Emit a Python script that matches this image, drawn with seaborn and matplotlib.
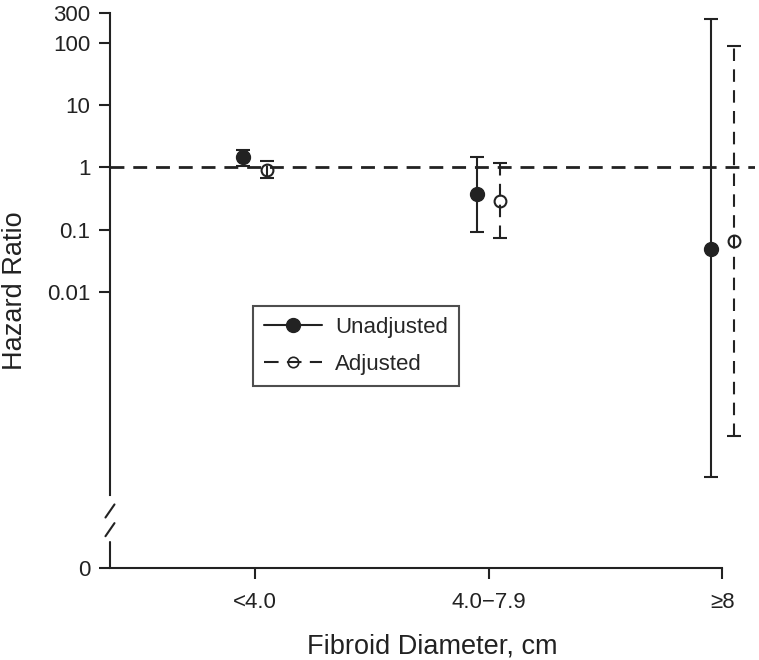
import numpy as np
import pandas as pd
import matplotlib
matplotlib.use("Agg")
import matplotlib.pyplot as plt
import matplotlib.transforms as mtransforms
from matplotlib.lines import Line2D
import seaborn as sns

# data
categories = ["<4.0", "4.0\u22127.9", "\u22658"]
unadj_hr = [1.45, 0.37, 0.049]
unadj_lo = [1.07, 0.092, 1.07e-5]
unadj_hi = [1.9, 1.46, 240.0]
adj_hr = [0.92, 0.29, 0.065]
adj_lo = [0.67, 0.074, 4.8e-5]
adj_hi = [1.25, 1.17, 87.0]
ytick_vals = [0.01, 0.1, 1, 10, 100, 300]
ytick_labels = ["0.01", "0.1", "1", "10", "100", "300"]

df = pd.DataFrame({
    "cat": categories * 2,
    "pos": list(range(3)) * 2,
    "group": ["Unadjusted"] * 3 + ["Adjusted"] * 3,
    "hr": unadj_hr + adj_hr,
    "lo": unadj_lo + adj_lo,
    "hi": unadj_hi + adj_hi,
})

sns.set_style("ticks")
plt.rcParams["font.family"] = ["Liberation Sans", "DejaVu Sans"]

fig = plt.figure(figsize=(7.59, 6.6), dpi=100)
ax = fig.add_axes([0.1449, 0.1394, 0.85, 0.8409])
ax.set_yscale("log")

zero_val = 10 ** -6.43
ax.set_ylim(zero_val, 300)
ax.set_xlim(-0.62, 2.14)

ink = "#222222"
offsets = {"Unadjusted": -0.05, "Adjusted": 0.05}
for grp, sub in df.groupby("group", sort=False):
    x = sub["pos"] + offsets[grp]
    yerr = [sub["hr"] - sub["lo"], sub["hi"] - sub["hr"]]
    if grp == "Unadjusted":
        eb = ax.errorbar(x, sub["hr"], yerr=yerr, fmt="o", color=ink,
                         ms=10, mfc=ink, mec=ink, ecolor=ink, elinewidth=1.5,
                         capsize=5, capthick=1.5, zorder=3)
    else:
        eb = ax.errorbar(x, sub["hr"], yerr=yerr, fmt="o", color=ink,
                         ms=8.5, mfc="none", mec=ink, mew=1.5, ecolor=ink,
                         elinewidth=1.5, capsize=5, capthick=1.5, zorder=3)
        eb[2][0].set_linestyle((0, (6, 4)))

ax.axhline(1, color=ink, lw=2, ls=(0, (5, 3.2)), zorder=1)

# y ticks including the broken-axis zero
ax.set_yticks(ytick_vals + [zero_val])
ax.set_yticklabels(ytick_labels + ["0"])
ax.yaxis.set_minor_locator(matplotlib.ticker.NullLocator())
ax.set_xticks(range(3))
ax.set_xticklabels(categories)
ax.tick_params(axis="both", length=8, width=1.5, color=ink, labelsize=16,
               labelcolor=ink)
ax.tick_params(axis="x", pad=9)
ax.tick_params(axis="y", pad=6)

sns.despine(ax=ax)
ax.spines["left"].set_bounds(10 ** -5.26, 300)
ax.spines["bottom"].set_bounds(-0.62, 2)
for s in ["left", "bottom"]:
    ax.spines[s].set_linewidth(1.5)
    ax.spines[s].set_color(ink)

# lower piece of the y axis and break marks
trans = mtransforms.blended_transform_factory(ax.transAxes, ax.transData)
ax.plot([0, 0], [zero_val, 10 ** -6.02], transform=trans, color=ink,
        lw=1.5, clip_on=False)
for ya, yb in [(10 ** -5.41, 10 ** -5.62), (10 ** -5.71, 10 ** -5.92)]:
    ax.plot([0.007, -0.007], [ya, yb], transform=trans, color=ink,
            lw=1.5, clip_on=False)

ax.set_ylabel("Hazard Ratio", fontsize=19.5, color=ink, labelpad=14)
ax.set_xlabel("Fibroid Diameter, cm", fontsize=19.5, color=ink, labelpad=15)

handles = [
    Line2D([], [], color=ink, lw=1.5, marker="o", ms=10, mfc=ink, mec=ink),
    Line2D([], [], color=ink, lw=1.5, ls=(0, (7, 4)), marker="o", ms=7.5,
           mfc="none", mec=ink, mew=1.2),
]
leg = ax.legend(handles, ["Unadjusted", "Adjusted"], loc="upper left",
                bbox_to_anchor=(0.222, 0.472), borderaxespad=0, fontsize=16,
                frameon=True, fancybox=False, handlelength=2.6,
                handletextpad=0.6, labelspacing=0.7, borderpad=0.5)
leg.get_frame().set_edgecolor(ink)
leg.get_frame().set_linewidth(1.5)

fig.savefig("out.png", dpi=100)
